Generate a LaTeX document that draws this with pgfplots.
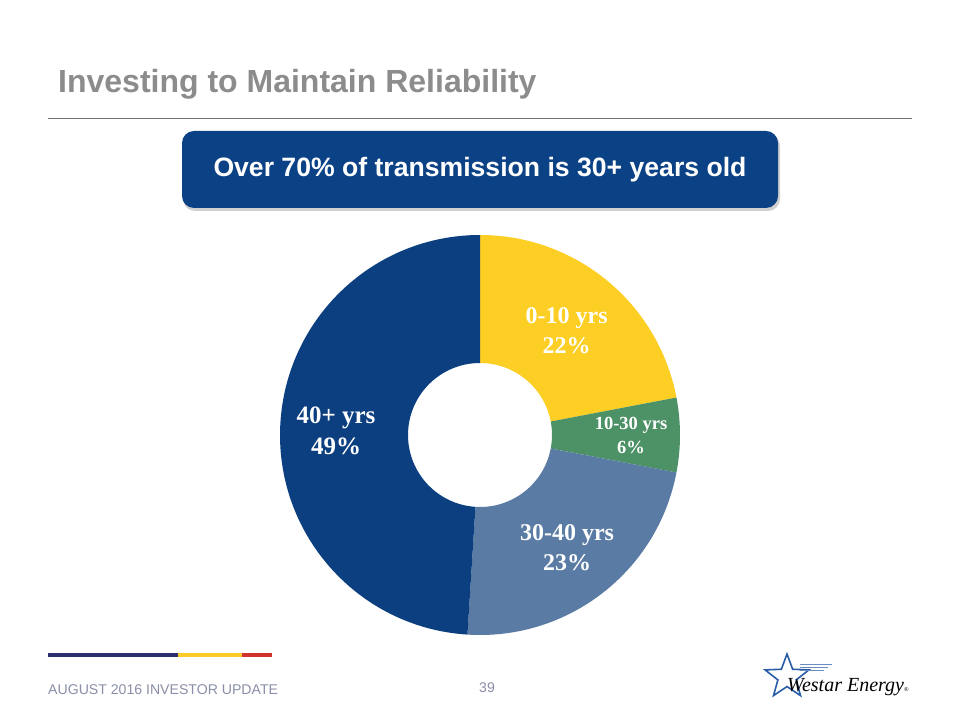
\documentclass[border=0pt]{standalone}
\usepackage{pgfplots}
\pgfplotsset{compat=1.18}
\usepackage{pgfplotstable}
\usepackage{fontspec}
\setmainfont{Liberation Serif}
\newfontfamily\arial{Liberation Sans}
\usetikzlibrary{shapes.geometric}
\definecolor{cyel}{HTML}{FDCE23}
\definecolor{cgrn}{HTML}{4D9167}
\definecolor{cblg}{HTML}{5A7BA4}
\definecolor{cnav}{HTML}{0C3F80}
\definecolor{cbox}{HTML}{0B4185}
\definecolor{ctitle}{HTML}{8C8C8C}
\definecolor{cfoot}{HTML}{8A8EA8}
\definecolor{cbar1}{HTML}{2E2D6E}
\definecolor{cbar2}{HTML}{FCCB2A}
\definecolor{cbar3}{HTML}{D2312E}
\definecolor{cstar}{HTML}{2A5CA8}
\pgfplotstableread{
name pct rad size skip col
{0-10 yrs} 22 136 24 30 cyel
{10-30 yrs} 6 151 18.5 24 cgrn
{30-40 yrs} 23 142 24 30 cblg
{40+ yrs} 49 144 25 31 cnav
}\slices
\begin{document}
\begin{tikzpicture}[x=1pt,y=1pt]
\useasboundingbox (0,0) rectangle (960,720);
\fill[white] (0,0) rectangle (960,720);
% title
\node[anchor=base west,inner sep=0,text=ctitle,font=\arial\bfseries\fontsize{32}{36}\selectfont] at (58,627) {Investing to Maintain Reliability};
\draw[color=black!55,line width=0.9] (48,602) -- (912,602);
% banner
\fill[black!30,opacity=0.6,rounded corners=12] (183,509) rectangle (780,586);
\fill[cbox,rounded corners=12] (182,512) rectangle (778,589);
\node[text=white,font=\arial\bfseries\fontsize{26.6}{30}\selectfont,inner sep=0] at (480,550.5) {Over 70\% of transmission is 30+ years old};
% donut
\begin{axis}[at={(480pt,285pt)},anchor=center,x=1pt,y=1pt,scale only axis,
  xmin=-200,xmax=200,ymin=-200,ymax=200,hide axis,clip=false]
\def\s{90}
\pgfplotsforeachungrouped \i in {0,1,2,3}{%
  \pgfplotstablegetelem{\i}{pct}\of\slices \let\p\pgfplotsretval
  \pgfplotstablegetelem{\i}{name}\of\slices \let\nm\pgfplotsretval
  \pgfplotstablegetelem{\i}{rad}\of\slices \let\rr\pgfplotsretval
  \pgfplotstablegetelem{\i}{size}\of\slices \let\fs\pgfplotsretval
  \pgfplotstablegetelem{\i}{skip}\of\slices \let\sk\pgfplotsretval
  \pgfplotstablegetelem{\i}{col}\of\slices \let\c\pgfplotsretval
  \pgfmathsetmacro\e{\s-3.6*\p}
  \pgfmathsetmacro\m{(\s+\e)/2}
  \pgfmathsetmacro\lx{\rr*cos(\m)}
  \pgfmathsetmacro\ly{\rr*sin(\m)}
  \pgfmathsetmacro\ix{72*cos(\e)}
  \pgfmathsetmacro\iy{72*sin(\e)}
  \edef\temp{\noexpand\fill[\c] (axis cs:0,0) ++(\s:200pt) arc[start angle=\s,end angle=\e,radius=200pt] -- (axis cs:\ix,\iy) arc[start angle=\e,end angle=\s,radius=72pt] -- cycle;
  \noexpand\node[text=white,align=center,inner sep=0,font=\noexpand\bfseries\noexpand\fontsize{\fs}{\sk}\noexpand\selectfont] at (axis cs:\lx,\ly) {\nm\noexpand\\\p\noexpand\%};}%
  \temp
  \let\s\e
}
\end{axis}
% footer
\fill[cbar1] (48,63) rectangle (178,67);
\fill[cbar2] (178,63) rectangle (242,67);
\fill[cbar3] (242,63) rectangle (272,67);
\node[anchor=base west,inner sep=0,text=cfoot,font=\arial\fontsize{14.1}{17}\selectfont] at (48,26) {AUGUST 2016 INVESTOR UPDATE};
\node[anchor=base,inner sep=0,text=cfoot,font=\arial\fontsize{14}{16}\selectfont] at (487,28) {39};
% logo
\node[star,star points=5,star point ratio=2.4,draw=cstar,line width=1.6,minimum size=46,inner sep=0] at (787,43) {};
\foreach \yy/\xx in {56/832,53/828,50/824}{\draw[cstar!70,line width=0.8] (800,\yy) -- (\xx,\yy);}
\node[anchor=base west,inner sep=0,font=\itshape\fontsize{20}{24}\selectfont] at (787,29) {Westar Energy};
\node[anchor=base west,inner sep=0,font=\fontsize{6}{7}\selectfont] at (904,29) {\textregistered};
\end{tikzpicture}
\end{document}
